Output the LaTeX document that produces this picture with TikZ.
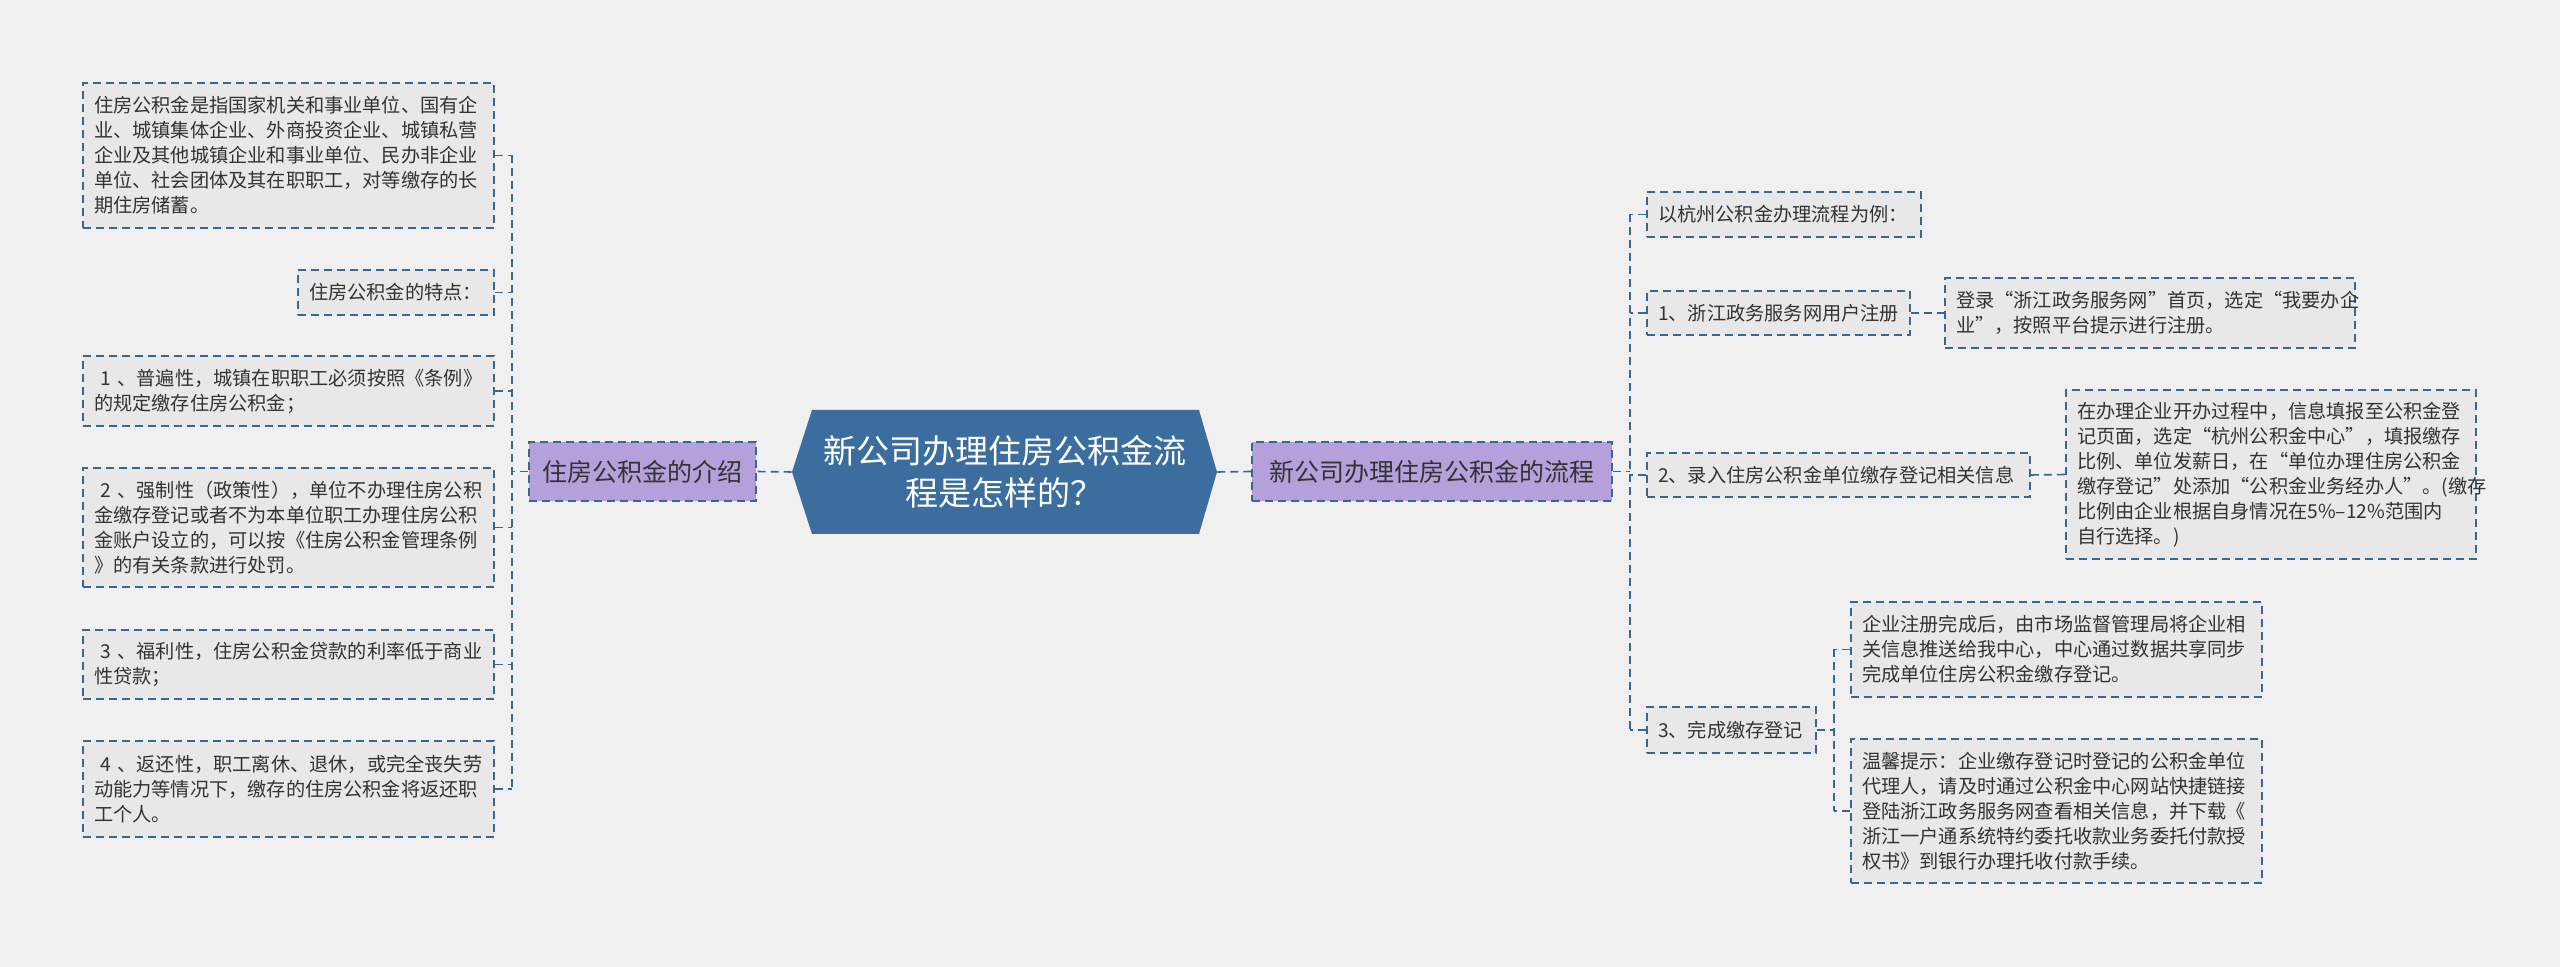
\documentclass[tikz,border=0pt]{standalone}
\usepackage{fontspec}
\setmainfont{Noto Sans CJK SC}
\definecolor{bgc}{HTML}{F0F0F0}
\definecolor{linec}{HTML}{3A6792}
\definecolor{leafc}{HTML}{E8E8E8}
\definecolor{purc}{HTML}{B5A0DC}
\definecolor{rootc}{HTML}{3B6E9E}
\definecolor{txtc}{HTML}{333333}
\begin{document}
\begin{tikzpicture}[x=0.5pt,y=-0.5pt,
  conn/.style={draw=linec,line width=0.8pt,dash pattern=on 4pt off 2.5pt},
  leaf/.style={conn,fill=leafc,text=txtc,align=left,inner ysep=2pt,inner xsep=5.5pt,font=\fontsize{9.6}{12.5}\selectfont},
  lvone/.style={conn,fill=purc,text=txtc,font=\fontsize{12.5}{15}\selectfont,inner sep=0pt}]
\fill[bgc] (0,0) rectangle (2560,967);
\useasboundingbox (0,0) rectangle (2560,967);
% root
\fill[rootc] (792,472) -- (812,410) -- (1199,410) -- (1217,472) -- (1199,534) -- (812,534) -- cycle;
\node[text=white,align=center,font=\fontsize{16.5}{21}\selectfont,minimum width=212.5pt,minimum height=62pt,inner sep=0pt] (root) at (1004.5,472) {新公司办理住房公积金流\\程是怎样的？};
% level one
\node[lvone,minimum width=113.5pt,minimum height=29.5pt] (L) at (642.5,471.5) {住房公积金的介绍};
\node[lvone,minimum width=180pt,minimum height=29.5pt] (R) at (1432,471.5) {新公司办理住房公积金的流程};
\draw[conn] (root.west) -- (L.east);
\draw[conn] (root.east) -- (R.west);
% left leaves
\node[leaf,text width=194.5pt,minimum height=72.5pt] (A) at (288.5,155.5) {住房公积金是指国家机关和事业单位、国有企\\业、城镇集体企业、外商投资企业、城镇私营\\企业及其他城镇企业和事业单位、民办非企业\\单位、社会团体及其在职职工，对等缴存的长\\期住房储蓄。};
\node[leaf,text width=87pt,minimum height=22.5pt] (B) at (396,292.5) {住房公积金的特点：};
\node[leaf,text width=194.5pt,minimum height=35pt] (C) at (288.5,391) {~1~、普遍性，城镇在职职工必须按照《条例》\\的规定缴存住房公积金；};
\node[leaf,text width=194.5pt,minimum height=59.5pt] (D) at (288.5,527.5) {~2~、强制性（政策性），单位不办理住房公积\\金缴存登记或者不为本单位职工办理住房公积\\金账户设立的，可以按《住房公积金管理条例\\》的有关条款进行处罚。};
\node[leaf,text width=194.5pt,minimum height=34.5pt] (E) at (288.5,664.5) {~3~、福利性，住房公积金贷款的利率低于商业\\性贷款；};
\node[leaf,text width=194.5pt,minimum height=48pt] (F) at (288.5,789) {~4~、返还性，职工离休、退休，或完全丧失劳\\动能力等情况下，缴存的住房公积金将返还职\\工个人。};
\coordinate (lt) at (512,0);
\draw[conn] (lt |- A.east) -- (lt |- F.east);
\foreach \n in {A,B,C,D,E,F} \draw[conn] (\n.east) -- (\n.east -| lt);
\draw[conn] (L.west) -- (L.west -| lt);
% right leaves
\node[leaf,text width=126pt,minimum height=22.5pt] (R0) at (1784,214.5) {以杭州公积金办理流程为例：};
\node[leaf,text width=120.5pt,minimum height=22pt] (R1) at (1778.5,313) {1、浙江政务服务网用户注册};
\node[leaf,text width=194pt,minimum height=35pt] (R1a) at (2150,313) {登录“浙江政务服务网”首页，选定“我要办企\\业”，按照平台提示进行注册。};
\node[leaf,text width=180.5pt,minimum height=22pt] (R2) at (1838.5,475) {2、录入住房公积金单位缴存登记相关信息};
\node[leaf,text width=194pt,minimum height=84.5pt] (R2a) at (2271,474.5) {在办理企业开办过程中，信息填报至公积金登\\记页面，选定“杭州公积金中心”，填报缴存\\比例、单位发薪日，在“单位办理住房公积金\\缴存登记”处添加“公积金业务经办人”。(缴存\\比例由企业根据自身情况在5\%--12\%范围内\\自行选择。)};
\node[leaf,text width=73.5pt,minimum height=23pt] (R3) at (1731.5,730) {3、完成缴存登记};
\node[leaf,text width=194.5pt,minimum height=47.5pt] (R3a) at (2056.5,649.5) {企业注册完成后，由市场监督管理局将企业相\\关信息推送给我中心，中心通过数据共享同步\\完成单位住房公积金缴存登记。};
\node[leaf,text width=194.5pt,minimum height=72pt] (R3b) at (2056.5,811) {温馨提示：企业缴存登记时登记的公积金单位\\代理人，请及时通过公积金中心网站快捷链接\\登陆浙江政务服务网查看相关信息，并下载《\\浙江一户通系统特约委托收款业务委托付款授\\权书》到银行办理托收付款手续。};
\coordinate (rt) at (1630,0);
\draw[conn] (rt |- R0.west) -- (rt |- R3.west);
\foreach \n in {R0,R1,R2,R3} \draw[conn] (\n.west) -- (\n.west -| rt);
\draw[conn] (R.east) -- (R.east -| rt);
\draw[conn] (R1.east) -- (R1a.west);
\draw[conn] (R2.east) -- (R2a.west);
\coordinate (st) at (1834,0);
\draw[conn] (st |- R3a.west) -- (st |- R3b.west);
\draw[conn] (R3.east) -- (R3.east -| st);
\draw[conn] (R3a.west) -- (R3a.west -| st);
\draw[conn] (R3b.west) -- (R3b.west -| st);
\end{tikzpicture}
\end{document}
